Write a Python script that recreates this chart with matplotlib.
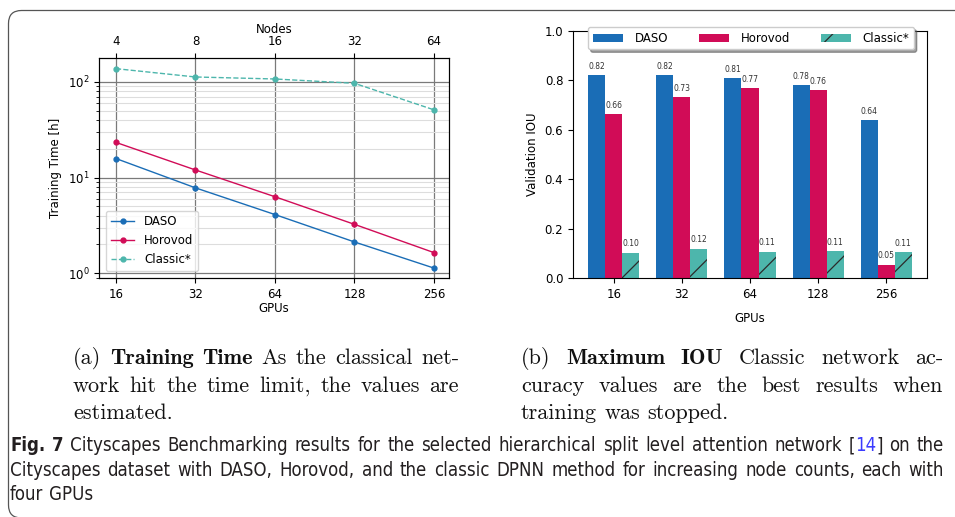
import numpy as np
import matplotlib
matplotlib.use("Agg")
import matplotlib.pyplot as plt
from matplotlib import font_manager
from matplotlib.patches import PathPatch
from matplotlib.path import Path
from matplotlib.ticker import NullLocator
from matplotlib.transforms import IdentityTransform

# data
gpus = [16, 32, 64, 128, 256]
nodes = [4, 8, 16, 32, 64]

daso_time = [15.8, 7.8, 4.1, 2.12, 1.13]
horovod_time = [23.3, 12.0, 6.3, 3.24, 1.64]
classic_time = [137.7, 112.7, 107.4, 96.8, 51.1]

daso_iou = [0.822, 0.822, 0.810, 0.782, 0.640]
horovod_iou = [0.664, 0.733, 0.770, 0.762, 0.054]
classic_iou = [0.103, 0.119, 0.107, 0.108, 0.106]

BLUE = "#1a6db6"
RED = "#d10c57"
TEAL = "#4db6ac"

plt.rcParams["mathtext.fontset"] = "cm"
plt.rcParams["hatch.color"] = "#2b2b2b"
plt.rcParams["hatch.linewidth"] = 0.9
plt.rcParams["font.size"] = 8.5

W, H = 955, 517
fig = plt.figure(figsize=(W / 100, H / 100), dpi=100)

# ---- (a) training time ----
ax1 = fig.add_axes([0.1037, 0.4623, 0.3665, 0.4255])
ax1.plot(gpus, daso_time, "-o", color=BLUE, lw=1, ms=3.5, label="DASO")
ax1.plot(gpus, horovod_time, "-o", color=RED, lw=1, ms=3.5, label="Horovod")
ax1.plot(gpus, classic_time, "--o", color=TEAL, lw=1, ms=3.5, label="Classic*")
ax1.set_xscale("log", base=2)
ax1.set_yscale("log")
ax1.set_xlim(13.8, 292)
ax1.set_ylim(0.89, 178)
ax1.set_xticks(gpus)
ax1.set_xticklabels([str(g) for g in gpus])
ax1.xaxis.set_minor_locator(NullLocator())
ax1.grid(True, which="major", color="#7a7a7a", lw=0.9)
ax1.grid(True, which="minor", axis="y", color="#dddddd", lw=0.8)
ax1.set_axisbelow(True)
ax1.set_xlabel("GPUs", labelpad=1)
ax1.set_ylabel("Training Time [h]")
ax1.legend(loc="lower left", fontsize=8.5, borderaxespad=0.6)

top = ax1.twiny()
top.set_xscale("log", base=2)
top.set_xlim(ax1.get_xlim())
top.set_xticks(gpus)
top.set_xticklabels([str(n) for n in nodes])
top.xaxis.set_minor_locator(NullLocator())
top.set_xlabel("Nodes", labelpad=2)

# ---- (b) validation IOU ----
ax2 = fig.add_axes([0.6, 0.4623, 0.3707, 0.4778])
x = np.arange(len(gpus))
w = 0.25
b1 = ax2.bar(x - w, daso_iou, w, color=BLUE, label="DASO")
b2 = ax2.bar(x, horovod_iou, w, color=RED, label="Horovod")
b3 = ax2.bar(x + w, classic_iou, w, color=TEAL, hatch="/", label="Classic*")
for b in (b1, b2, b3):
    ax2.bar_label(b, fmt="%.2f", padding=3, fontsize=5.5, color="#333333")
ax2.set_xlim(-0.6, 4.6)
ax2.set_ylim(0, 1.0)
ax2.set_xticks(x)
ax2.set_xticklabels([str(g) for g in gpus])
ax2.set_ylabel("Validation IOU")
ax2.set_xlabel("GPUs", labelpad=8)
leg = ax2.legend(loc="lower left", bbox_to_anchor=(0.042, 0.925, 0.921, 0.095),
                 mode="expand", ncol=3, shadow=True, fancybox=True,
                 fontsize=8.5, handlelength=2.55, handletextpad=1.0, borderaxespad=0)
leg.set_zorder(5)

# ---- open rounded frame (top and left edges only) ----
r = 13
xl, yt, yb = 8.5, H - 10.5, -1
frame_path = Path([(W + 20, yt), (xl + r, yt), (xl, yt), (xl, yt - r),
                   (xl, yb + r), (xl, yb), (xl + r, yb), (W + 20, yb)],
                  [Path.MOVETO, Path.LINETO, Path.CURVE3, Path.CURVE3,
                   Path.LINETO, Path.CURVE3, Path.CURVE3, Path.LINETO])
fig.add_artist(PathPatch(frame_path, transform=IdentityTransform(), fill=False,
                         ec="#555555", lw=0.9))

# ---- captions (justified lines) ----
names = {f.name for f in font_manager.fontManager.ttflist}
cond = font_manager.findfont(font_manager.FontProperties(family="DejaVu Sans", stretch="condensed"))
if "Condensed" in cond:
    cap_font = dict(family="DejaVu Sans", stretch="condensed")
elif "Liberation Sans Narrow" in names:
    cap_font = dict(family="Liberation Sans Narrow")
else:
    cap_font = dict(family="DejaVu Sans")

renderer = fig.canvas.get_renderer()


def make_word(word, y, base):
    pieces = []
    for s, kw in word:
        t = fig.text(0, 1 - y / H, s, va="baseline", ha="left", **{**base, **kw})
        pieces.append((t, t.get_window_extent(renderer).width))
    return pieces


def space_width(base):
    a = fig.text(0, 0, "a a", **base)
    b = fig.text(0, 0, "aa", **base)
    s = a.get_window_extent(renderer).width - b.get_window_extent(renderer).width
    a.remove()
    b.remove()
    return s


def natural_width(words, base):
    total = 0
    for word in words:
        for t, pw in make_word(word, 0, base):
            total += pw
            t.remove()
    return total + space_width(base) * (len(words) - 1)


def put_line(words, x0, x1, y, justify, base):
    placed = [make_word(wd, y, base) for wd in words]
    widths = [sum(p[1] for p in pieces) for pieces in placed]
    if justify and len(placed) > 1:
        gap = (x1 - x0 - sum(widths)) / (len(placed) - 1)
    else:
        gap = space_width(base)
    xx = x0
    for pieces, wd in zip(placed, widths):
        px = xx
        for t, pw in pieces:
            t.set_x(px / W)
            px += pw
        xx += wd + gap


def fit_size(lines, x0, x1, base, fill):
    # font size at which the widest justified line just fits
    ratio = max(natural_width(ws, base) / (x1 - x0) for ws in lines[:-1])
    return base["fontsize"] * fill / ratio


def paragraph(lines, x0, x1, y0, step, base):
    for i, ws in enumerate(lines):
        put_line(ws, x0, x1, y0 + i * step, i < len(lines) - 1, base)


def words_of(text, **kw):
    return [[(s, kw)] for s in text.split()]


serif = dict(family="cmr10", fontsize=15.0, color="#111111")
bold = dict(family="cmb10")

cap_a = [words_of("(a)") + words_of("Training Time", **bold) + words_of("As the classical net-"),
         words_of("work hit the time limit, the values are"),
         words_of("estimated.")]
cap_b = [words_of("(b)") + words_of("Maximum IOU", **bold) + words_of("Classic network ac-"),
         words_of("curacy values are the best results when"),
         words_of("training was stopped.")]
size = min(fit_size(cap_a, 73, 459, serif, 0.985), fit_size(cap_b, 521, 943, serif, 0.985))
serif["fontsize"] = size
paragraph(cap_a, 73, 459, 364, 27.5, serif)
paragraph(cap_b, 521, 943, 364, 27.5, serif)

capf = dict(fontsize=10.5, color="#231f20", **cap_font)
figbold = dict(weight="bold")
line1 = (words_of("Fig. 7", **figbold)
         + words_of("Cityscapes Benchmarking results for the selected hierarchical split level attention network")
         + [[("[", {}), ("14", {"color": "#3b3bff"}), ("]", {})]]
         + words_of("on the"))
line2 = words_of("Cityscapes dataset with DASO, Horovod, and the classic DPNN method for increasing node counts, each with")
fig_lines = [line1, line2, words_of("four GPUs")]
capf["fontsize"] = fit_size(fig_lines, 10, 944, capf, 0.99)
paragraph(fig_lines, 10, 944, 451, 24.5, capf)

fig.savefig("out.png", dpi=100)
